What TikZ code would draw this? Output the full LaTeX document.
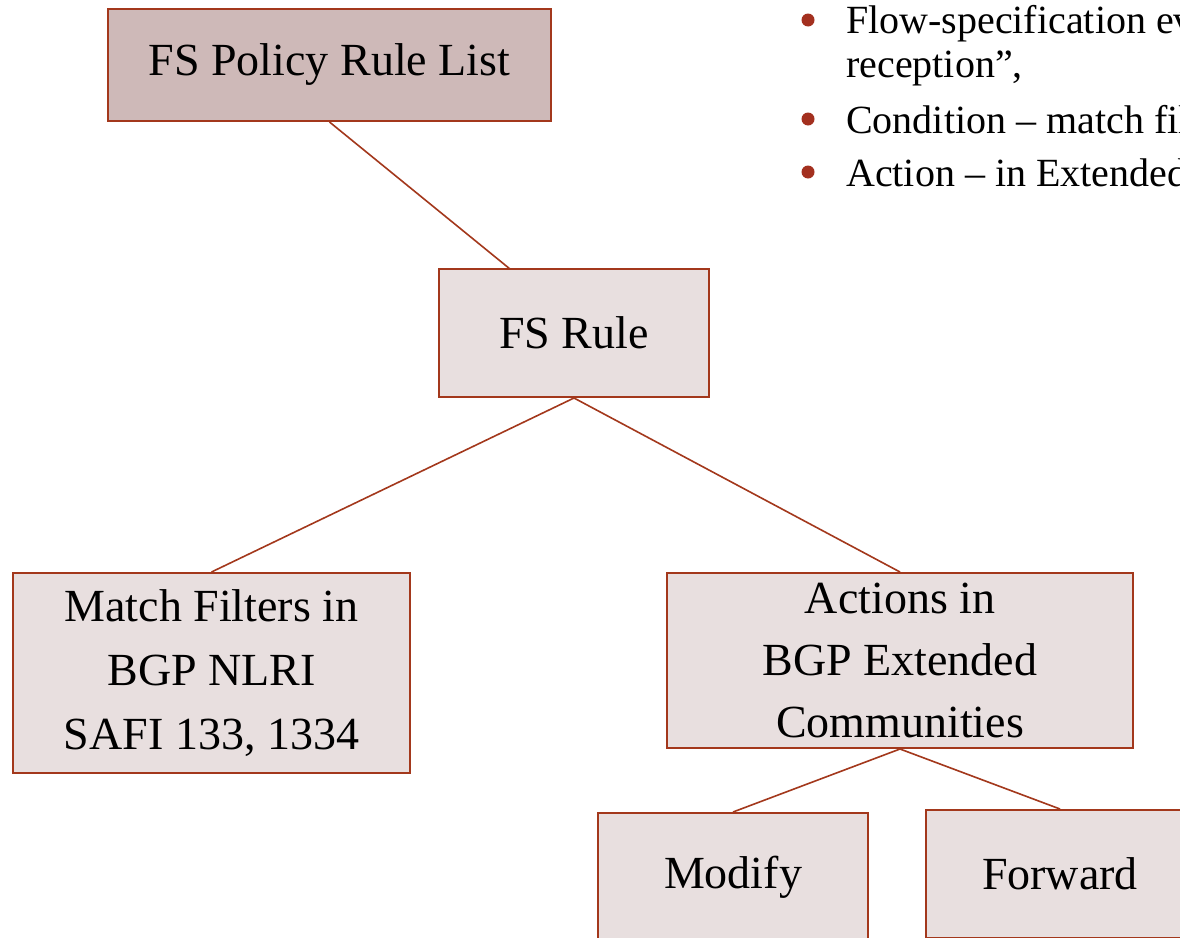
\documentclass[tikz,border=0pt]{standalone}
\usepackage{fontspec}
\setmainfont{Liberation Serif}
\definecolor{edge}{HTML}{A3381C}
\definecolor{fillA}{HTML}{CEB9B8}
\definecolor{fillB}{HTML}{E8DFDF}
\definecolor{bul}{HTML}{A3301F}
\tikzset{
  box/.style={draw=edge, line width=2pt, fill=fillB, inner sep=0pt, align=center,
    font=\fontsize{46}{64}\selectfont},
  link/.style={draw=edge, line width=1.6pt},
  btext/.style={anchor=base west, inner sep=0pt, font=\fontsize{40}{44}\selectfont},
}
\begin{document}
\begin{tikzpicture}[x=1pt,y=-1pt]
\clip (0,0) rectangle (1180,937);
\fill[white] (0,0) rectangle (1180,937);
% boxes
\node[box, fill=fillA, minimum width=443pt, minimum height=112pt] (list) at (329.5,65) {FS Policy Rule List};
\node[box, minimum width=270pt, minimum height=128pt] (rule) at (574,333) {FS Rule};
\node[box, minimum width=397pt, minimum height=200pt] (match) at (211.5,673) {Match Filters in\\BGP NLRI\\SAFI 133, 1334};
\node[box, minimum width=466pt, minimum height=175pt, font=\fontsize{46}{62}\selectfont] (act) at (900,660.5) {Actions in\\BGP Extended\\Communities};
\node[box, minimum width=270pt, minimum height=128pt] (mod) at (733,877) {Modify};
\node[box, minimum width=268pt, minimum height=128pt] (fwd) at (1060,874) {Forward};
% connectors
\coordinate (lA) at (330,121);
\coordinate (rA) at (510,269);
\draw[link] (list.south) -- (rA);
\draw[link] (rule.south) -- (match.north);
\draw[link] (rule.south) -- (act.north);
\draw[link] (act.south) -- (mod.north);
\draw[link] (act.south) -- (fwd.north);
% bullets
\fill[bul] (808,20) circle (6.5pt);
\fill[bul] (808,119) circle (6.5pt);
\fill[bul] (808,172) circle (6.5pt);
\node[btext] (b1) at (846,33) {Flow-specification event};
\node[btext] (b1b) at (846,77) {reception”,};
\node[btext] (b2) at (846,133) {Condition – match filters};
\node[btext] (b3) at (846,186) {Action – in Extended};
\end{tikzpicture}
\end{document}
